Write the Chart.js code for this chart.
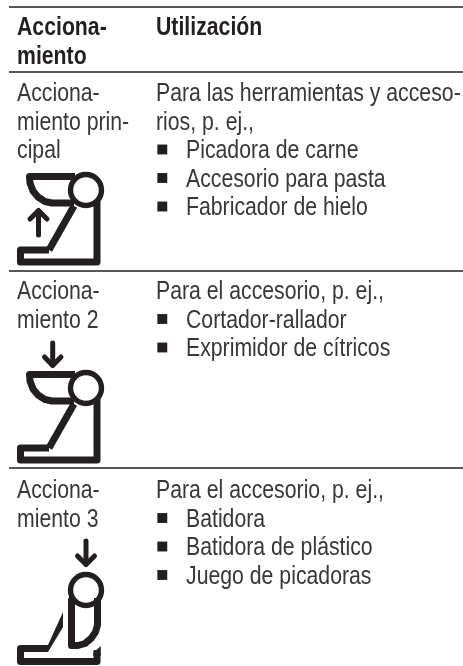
<!DOCTYPE html>
<html>
<head>
<meta charset="utf-8">
<title>Accionamiento</title>
<script src="https://cdn.jsdelivr.net/npm/chart.js@4"></script>
<style>
  html, body { margin: 0; padding: 0; background: #fff; }
  canvas { display: block; }
</style>
</head>
<body>
<canvas id="table" width="463" height="666"></canvas>
<script>
// Table contents
const headerLeft = ['Acciona-', 'miento'];
const headerRight = ['Utilización'];
const driveNames = [
  ['Acciona-', 'miento prin-', 'cipal'],
  ['Acciona-', 'miento 2'],
  ['Acciona-', 'miento 3']
];
const driveIntro = [
  ['Para las herramientas y acceso-', 'rios, p. ej.,'],
  ['Para el accesorio, p. ej.,'],
  ['Para el accesorio, p. ej.,']
];
const driveUses = [
  ['Picadora de carne', 'Accesorio para pasta', 'Fabricador de hielo'],
  ['Cortador-rallador', 'Exprimidor de cítricos'],
  ['Batidora', 'Batidora de plástico', 'Juego de picadoras']
];

// Where each block of text starts (y axis runs down, in table units)
const rowBaselines = [101, 299, 498];
const headerBaseline = 35;
const lineStep = 28.5;
const colA = 17, colB = 156, colBullet = 162.3, colUse = 186;

// Table rules
const ruleTops = [7, 72, 271, 468];
const ruleStart = 9, ruleEnd = 463;

// Icon outlines
const icon1Base = [[49, 250], [20.5, 250], [20.5, 262], [97, 262], [97, 200]];
const icon1Arm = [[49, 250], [74, 206]];
const icon1Bowl = [[75, 176.5], [29.5, 176.5], [30, 183], [33, 191], [38, 197], [45, 201.5], [52, 203], [74, 203]];
const icon1Arrow = [[38.5, 235], [38.5, 211]];
const icon1Head = [[30, 219], [38.5, 210.5], [47, 219]];
const icon1Hub = [[86, 190]];

const icon2Base = [[49, 448], [20.5, 448], [20.5, 460], [97, 460], [97, 398]];
const icon2Arm = [[49, 448], [74, 404]];
const icon2Bowl = [[75, 374.5], [29.5, 374.5], [30, 381], [33, 389], [38, 395], [45, 399.5], [52, 401], [74, 401]];
const icon2Arrow = [[52.7, 343], [52.7, 365]];
const icon2Head = [[44.5, 357], [52.7, 365.5], [61, 357]];
const icon2Hub = [[86, 388]];

const icon3Base = [[47, 648.5], [20.5, 648.5], [20.5, 661.5], [97, 661.5], [97, 650]];
const icon3Arm = [[44, 645], [48, 645], [63, 612], [63, 627], [48, 652], [44, 652]];
const icon3Tip = [[93.3, 653], [100.7, 646], [100.7, 656], [93.3, 656]];
const icon3Bowl = [[71.5, 600], [71.5, 645.5], [78, 645.5], [85, 643.5], [91, 638.5], [95.5, 632], [97.5, 625], [97.5, 598]];
const icon3Arrow = [[86, 541], [86, 564]];
const icon3Head = [[77.5, 556], [86, 564.5], [94.5, 556]];
const icon3Hub = [[86, 590]];

const ink = '#231f20';

function xy(points) {
  return points.map(function (p) { return { x: p[0], y: p[1] }; });
}

function stroke(points, width, cap) {
  return {
    type: 'scatter',
    data: xy(points),
    showLine: true,
    borderColor: ink,
    borderWidth: width,
    borderCapStyle: cap || 'butt',
    borderJoinStyle: 'round',
    pointRadius: 0,
    fill: false
  };
}

function shape(points) {
  return {
    type: 'scatter',
    data: xy(points),
    showLine: true,
    borderColor: ink,
    backgroundColor: ink,
    borderWidth: 0,
    pointRadius: 0,
    fill: 'shape'
  };
}

function hub(points) {
  return {
    type: 'scatter',
    data: xy(points),
    pointStyle: 'circle',
    pointRadius: 15.5,
    pointBorderWidth: 5.4,
    pointBorderColor: ink,
    pointBackgroundColor: '#fff'
  };
}

const datasets = [];

// rules
ruleTops.forEach(function (y) {
  datasets.push(stroke([[ruleStart, y], [ruleEnd, y]], 1.5));
});

// icons
[icon1Base, icon1Arm, icon1Bowl, icon2Base, icon2Arm, icon2Bowl, icon3Base, icon3Bowl].forEach(function (p) {
  datasets.push(stroke(p, 7));
});
[icon1Arrow, icon1Head, icon2Arrow, icon2Head, icon3Arrow, icon3Head].forEach(function (p) {
  datasets.push(stroke(p, 5, 'round'));
});
datasets.push(shape(icon3Arm), shape(icon3Tip));
[icon1Hub, icon2Hub, icon3Hub].forEach(function (p) {
  datasets.push(hub(p));
});

// list bullets, one per use
const bullets = [];
driveUses.forEach(function (uses, r) {
  uses.forEach(function (u, i) {
    bullets.push([colBullet, rowBaselines[r] + (driveIntro[r].length + i) * lineStep - 8.5]);
  });
});
datasets.push({
  type: 'scatter',
  data: xy(bullets),
  pointStyle: 'rect',
  pointRadius: 7,
  pointBorderWidth: 0,
  pointBackgroundColor: ink
});

const condense = 0.85;

const tableText = {
  id: 'tableText',
  afterDatasetsDraw: function (chart) {
    const ctx = chart.ctx;
    const sx = chart.scales.x, sy = chart.scales.y;
    function put(str, x, y, font, color) {
      ctx.font = font;
      ctx.fillStyle = color;
      // the printed face is a narrow one, squeeze Liberation Sans to fit
      ctx.save();
      ctx.translate(sx.getPixelForValue(x), sy.getPixelForValue(y));
      ctx.scale(condense, 1);
      ctx.fillText(str, 0, 0);
      ctx.restore();
    }
    const regular = '25px "Liberation Sans"';
    const bold = 'bold 25px "Liberation Sans"';
    const soft = '#3a3637';
    ctx.save();
    ctx.textBaseline = 'alphabetic';
    ctx.textAlign = 'left';
    headerLeft.forEach(function (t, i) { put(t, colA, headerBaseline + i * lineStep, bold, ink); });
    headerRight.forEach(function (t, i) { put(t, colB, headerBaseline + i * lineStep, bold, ink); });
    driveNames.forEach(function (lines, r) {
      lines.forEach(function (t, i) { put(t, colA, rowBaselines[r] + i * lineStep, regular, soft); });
      driveIntro[r].forEach(function (t, i) { put(t, colB, rowBaselines[r] + i * lineStep, regular, soft); });
      driveUses[r].forEach(function (t, i) {
        put(t, colUse, rowBaselines[r] + (driveIntro[r].length + i) * lineStep, regular, soft);
      });
    });
    ctx.restore();
  }
};

new Chart(document.getElementById('table'), {
  type: 'scatter',
  data: { datasets: datasets },
  options: {
    responsive: false,
    animation: false,
    layout: { padding: 0, autoPadding: false },
    plugins: { legend: { display: false }, tooltip: { enabled: false } },
    scales: {
      x: { type: 'linear', display: false, min: 0, max: 463 },
      y: { type: 'linear', display: false, min: 0, max: 666, reverse: true }
    }
  },
  plugins: [tableText]
});
</script>
</body>
</html>
